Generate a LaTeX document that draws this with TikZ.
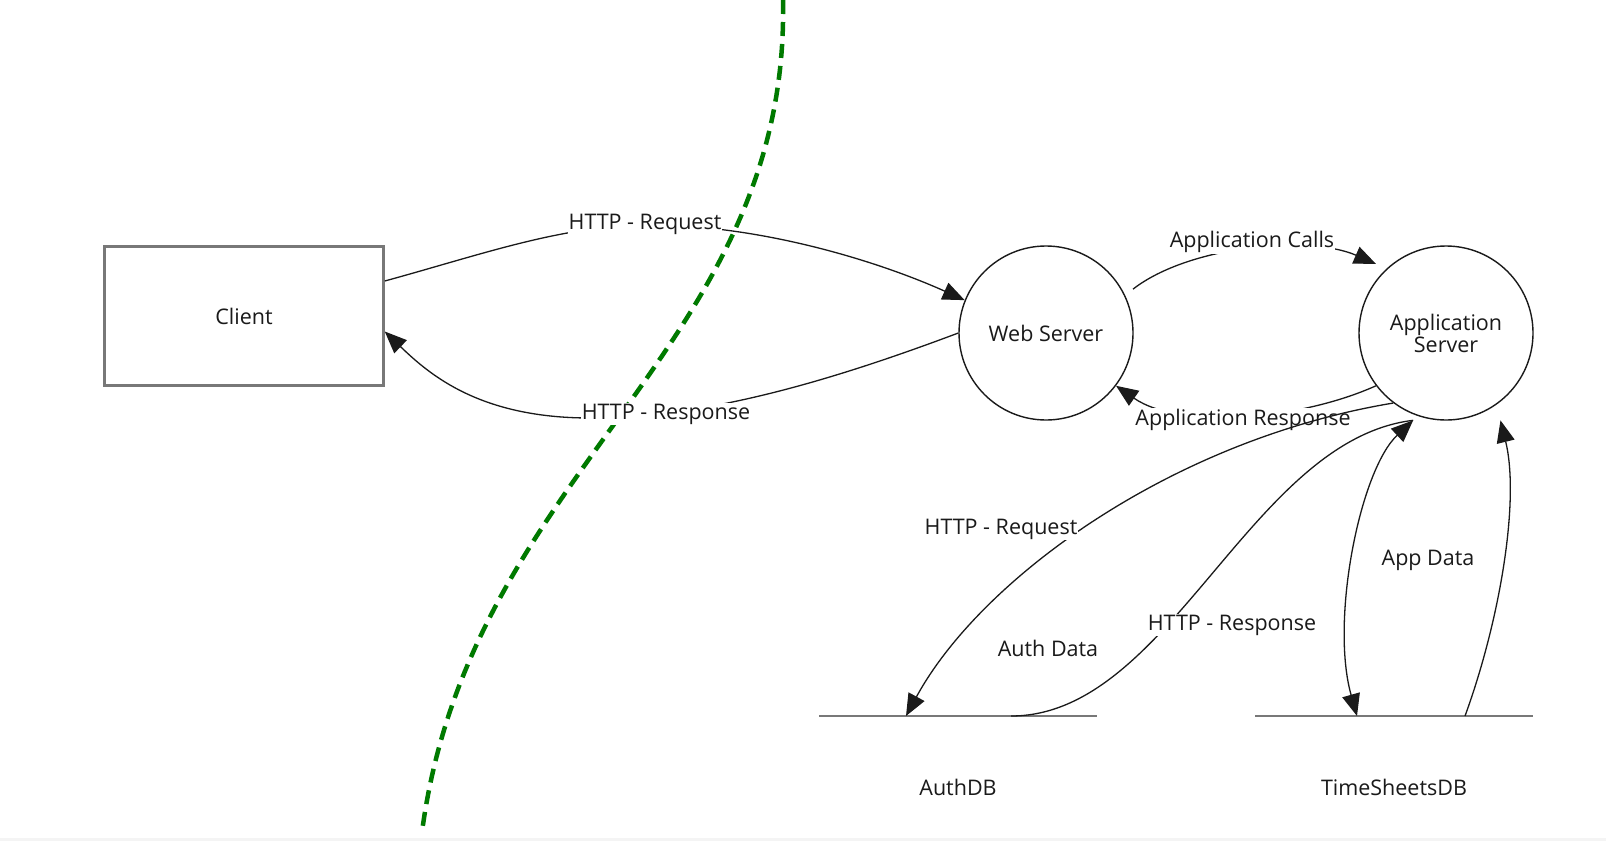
\documentclass[tikz,border=0pt]{standalone}
\usepackage{fontspec}
\setmainfont{Open Sans}
\usetikzlibrary{arrows.meta}
\definecolor{boundary}{RGB}{0,122,0}
\definecolor{boxgray}{RGB}{120,120,120}
\definecolor{ink}{RGB}{26,26,26}
\definecolor{strip}{RGB}{244,244,244}
\begin{document}
\begin{tikzpicture}[x=1pt,y=-1pt,
  every node/.style={font=\fontsize{21.5}{23}\selectfont, text=ink},
  conn/.style={line width=1.3pt, draw=ink},
  tipend/.style={-{Triangle[length=22pt,width=18pt]}},
  tipboth/.style={{Triangle[length=22pt,width=18pt]}-{Triangle[length=22pt,width=18pt]}},
  lbl/.style={fill=white, inner sep=1pt},
  proc/.style={circle, draw=ink, line width=1.4pt, minimum size=174pt, inner sep=0pt, align=center},
  entity/.style={rectangle, draw=boxgray, line width=2.5pt, minimum width=279pt, minimum height=139pt},
  store/.style={minimum width=278pt, minimum height=0pt, inner sep=0pt, outer sep=0pt},
  storeline/.style={draw=boxgray, line width=2.5pt},
  trust/.style={draw=boundary, line width=4.5pt, dash pattern=on 14pt off 8pt}]
\useasboundingbox (0,0) rectangle (1606,841);
\fill[white] (0,0) rectangle (1606,841);
\fill[strip] (0,838) rectangle (1606,841);

% nodes
\node[entity] (client) at (244,316) {Client};
\node[proc] (ws) at (1046,333) {Web Server};
\node[proc] (as) at (1446,333) {Application\\[-1pt]Server};
\node[store] (authdb) at (958,716) {};
\node[store] (tsdb) at (1394,716) {};
\draw[storeline] (authdb.west) -- (authdb.east);
\draw[storeline] (tsdb.west) -- (tsdb.east);
\node (authdbl) at (958,787) {AuthDB};
\node (tsdbl) at (1394,787) {TimeSheetsDB};

\coordinate (asin) at ([yshift=-6pt]as.248);

% trust boundary
\draw[trust] (783,0) .. controls (790,350) and (470,470) .. (422,832);

% connectors
\draw[conn,tipend] ([yshift=35pt]client.east) .. controls (480,255) and (560,226) .. (645,225) .. controls (760,224) and (880,262) .. (ws.158);
\draw[conn,tipend] (ws.180) .. controls (820,385) and (700,418) .. (590,418) .. controls (480,418) and (430,375) .. ([yshift=-15.5pt]client.east);
\draw[conn,tipend] ([xshift=11pt]ws.30) .. controls (1190,245) and (1310,235) .. ([shift={(-8pt,7pt)}]as.135);
\draw[conn,tipend] (as.217) .. controls (1300,420) and (1180,430) .. (ws.323);

\node[lbl] (l4) at (1243,420) {Application Response};

\draw[conn,tipend] (as.233) .. controls (1170,440) and (980,580) .. ([xshift=-52pt]authdb.center);
\draw[conn] ([xshift=53pt]authdb.center) .. controls (1170,716) and (1250,440) .. (asin);
\draw[conn,tipboth] (asin) .. controls (1360,470) and (1330,620) .. ([xshift=-37pt]tsdb.center);
\draw[conn,tipend] ([xshift=71pt]tsdb.center) .. controls (1500,620) and (1520,500) .. ([shift={(8pt,-13pt)}]as.302);

% labels
\node[lbl] (l1) at (645,224) {HTTP - Request};
\node[lbl] (l2) at (666,414) {HTTP - Response};
\node[lbl] (l3) at (1252,242) {Application Calls};
\node[lbl] (l5) at (1001,529) {HTTP - Request};
\node[lbl] (l6) at (1232,625) {HTTP - Response};
\node (l7) at (1048,648) {Auth Data};
\node (l8) at (1428,560) {App Data};
\end{tikzpicture}
\end{document}
